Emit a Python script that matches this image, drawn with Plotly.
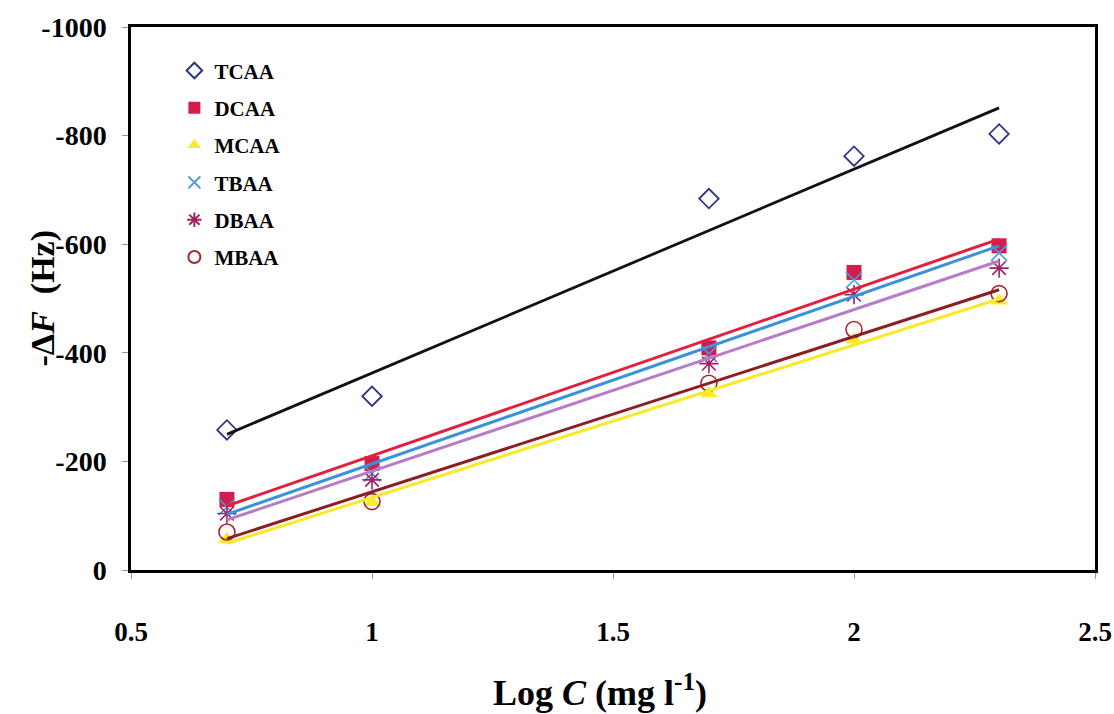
import numpy as np
import plotly.graph_objects as go

# Data
log_c = [0.699, 1.0, 1.699, 2.0, 2.301]
series_names = ["TCAA", "DCAA", "MCAA", "TBAA", "DBAA", "MBAA"]
tcaa = [-258, -320, -684, -762, -803]
dcaa = [-130, -196, -409, -548, -597]
mcaa = [-56, -125, -325, -424, -496]
tbaa = [-116, -178, -398, -534, -584]
dbaa = [-104, -166, -380, -507, -556]
mbaa = [-70, -126, -344, -443, -509]
y_tickvals = [0, -200, -400, -600, -800, -1000]
y_ticktext = ["0", "-200", "-400", "-600", "-800", "-1000"]
x_tickvals = [0.5, 1, 1.5, 2, 2.5]
x_ticktext = ["0.5", "1", "1.5", "2", "2.5"]
x_title = "Log <i>C</i> (mg l<sup>-1</sup>)"
y_title = "-Δ<i>F</i>  (Hz)"

values = {"TCAA": tcaa, "DCAA": dcaa, "MCAA": mcaa, "TBAA": tbaa, "DBAA": dbaa, "MBAA": mbaa}

styles = {
    "TCAA": dict(symbol="diamond-open", color="#2d3585", size=15, lw=1.8, line="#111111"),
    "DCAA": dict(symbol="square", color="#d21d4c", size=15, lw=0, line="#e41e3c"),
    "MCAA": dict(symbol="triangle-up", color="#f8ec2a", size=15, lw=0, line="#f7ea2a"),
    "TBAA": dict(symbol="x-thin-open", color="#4a9ae0", size=16, lw=1.6, line="#3b92dc"),
    "DBAA": dict(symbol="asterisk-open", color="#a1225f", size=16, lw=1.6, line="#b67cc6"),
    "MBAA": dict(symbol="circle-open", color="#a52a2a", size=16, lw=1.6, line="#8c1e22"),
}

fig = go.Figure()

for name in series_names:
    st = styles[name]
    y = values[name]
    marker = dict(symbol=st["symbol"], size=st["size"], color=st["color"])
    if st["lw"] > 0:
        marker["line"] = dict(width=st["lw"], color=st["color"])
    fig.add_trace(go.Scatter(
        x=log_c, y=y, mode="markers", name=name, marker=marker,
        legendgroup=name, showlegend=True,
    ))

# linear trend lines drawn on top of markers
line_order = ["MCAA", "MBAA", "DBAA", "TBAA", "DCAA", "TCAA"]
for name in line_order:
    st = styles[name]
    y = values[name]
    slope, intercept = np.polyfit(log_c, y, 1)
    xs = [log_c[0], log_c[-1]]
    ys = [slope * xv + intercept for xv in xs]
    fig.add_trace(go.Scatter(
        x=xs, y=ys, mode="lines", showlegend=False, hoverinfo="skip",
        line=dict(color=st["line"], width=3 if name != "TCAA" else 2.8),
    ))

serif = "Liberation Serif"
L, R = 131, 19
plot_w = 1114 - L - R

fig.update_layout(
    width=1114, height=714,
    margin=dict(l=L, r=R, t=27, b=144),
    paper_bgcolor="white", plot_bgcolor="white",
    font=dict(family=serif, color="black"),
    showlegend=True,
    legend=dict(
        x=0.045, y=0.957, xanchor="left", yanchor="top",
        bgcolor="rgba(0,0,0,0)", borderwidth=0,
        font=dict(family=serif, size=21, color="black", weight="bold"),
        tracegroupgap=7, itemsizing="constant",
    ),
    annotations=[
        dict(text=y_title, textangle=-90, xref="paper", yref="paper",
             x=(42 - L) / plot_w, y=0.50, xanchor="center", yanchor="middle", showarrow=False,
             font=dict(family=serif, size=34, color="black", weight="bold")),
        dict(text=x_title, xref="paper", yref="paper",
             x=(600 - L) / plot_w, y=-0.222, xanchor="center", yanchor="middle",
             showarrow=False,
             font=dict(family=serif, size=36, color="black", weight="bold")),
    ],
)

fig.update_xaxes(
    range=[0.5, 2.5], tickvals=x_tickvals, ticktext=x_ticktext,
    showgrid=False, zeroline=False, automargin=False,
    showline=True, linecolor="black", linewidth=2.5, mirror=True,
    ticks="outside", ticklen=6, tickcolor="#999999", tickwidth=1,
    ticklabelstandoff=30,
    tickfont=dict(family=serif, size=27, color="black", weight="bold"),
)
fig.update_yaxes(
    range=[0, -1000], tickvals=y_tickvals, ticktext=y_ticktext,
    showgrid=False, zeroline=False, automargin=False,
    showline=True, linecolor="black", linewidth=2.5, mirror=True,
    ticks="outside", ticklen=6, tickcolor="#999999", tickwidth=1,
    ticklabelstandoff=10,
    tickfont=dict(family=serif, size=28, color="black", weight="bold"),
)

fig.write_html("out.html")
